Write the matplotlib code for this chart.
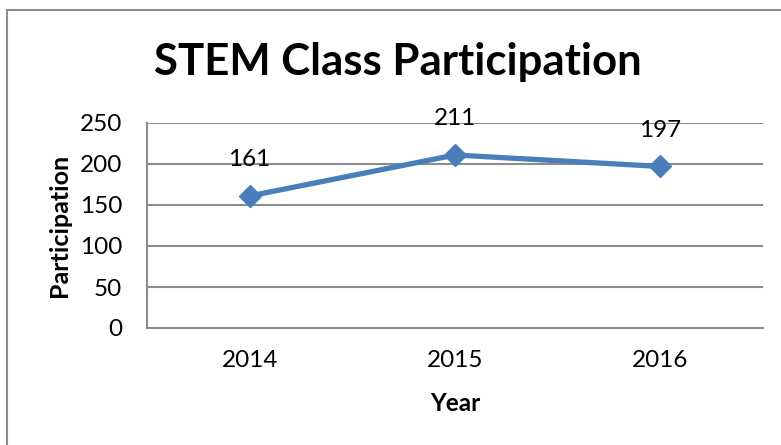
import matplotlib.pyplot as plt
from matplotlib.patches import Rectangle

years = ["2014", "2015", "2016"]
participation = [161, 211, 197]
y_ticks = [0, 50, 100, 150, 200, 250]

plt.rcParams['font.family'] = ['Lato', 'DejaVu Sans']

fig = plt.figure(figsize=(7.81, 4.45), dpi=100)
W, H = 781, 445

# outer chart border (runs off the right and bottom edges)
fig.patches.append(Rectangle((7 / W, -0.1), 1.0, (H - 10) / H + 0.1,
                             transform=fig.transFigure, fill=False,
                             edgecolor="#8c8c8c", linewidth=1.5))

ax = fig.add_axes([147 / W, 1 - 328 / H, (763 - 147) / W, (328 - 123) / H])
x = range(len(years))
ax.plot(x, participation, color="#4a7ebb", linewidth=3.8, marker="D",
        markersize=11, zorder=3)
for i, v in enumerate(participation):
    ax.annotate(str(v), (i, v), xytext=(0, 26), textcoords="offset points",
                ha="center", va="center", fontsize=17.5, color="black")

ax.set_xlim(-0.5, len(years) - 0.5)
ax.set_ylim(0, 250)
ax.set_yticks(y_ticks)
ax.set_xticks(list(x))
ax.set_xticklabels(years)
ax.tick_params(axis="both", length=0, labelsize=17.5, colors="black")
ax.tick_params(axis="x", pad=16)
ax.tick_params(axis="y", pad=18)
ax.grid(axis="y", color="#8c8c8c", linewidth=1.5)
ax.set_axisbelow(True)
for s in ["top", "right"]:
    ax.spines[s].set_visible(False)
for s in ["left", "bottom"]:
    ax.spines[s].set_color("#8c8c8c")
    ax.spines[s].set_linewidth(1.5)

ax.set_xlabel("Year", fontsize=17.5, fontweight="bold", labelpad=15)
ax.set_ylabel("Participation", fontsize=18, fontweight="bold", labelpad=6)
fig.text(398 / W, 1 - 62 / H, "STEM Class Participation", ha="center",
         va="center", fontsize=31.5, fontweight="bold")

fig.savefig("out.png", dpi=100)
